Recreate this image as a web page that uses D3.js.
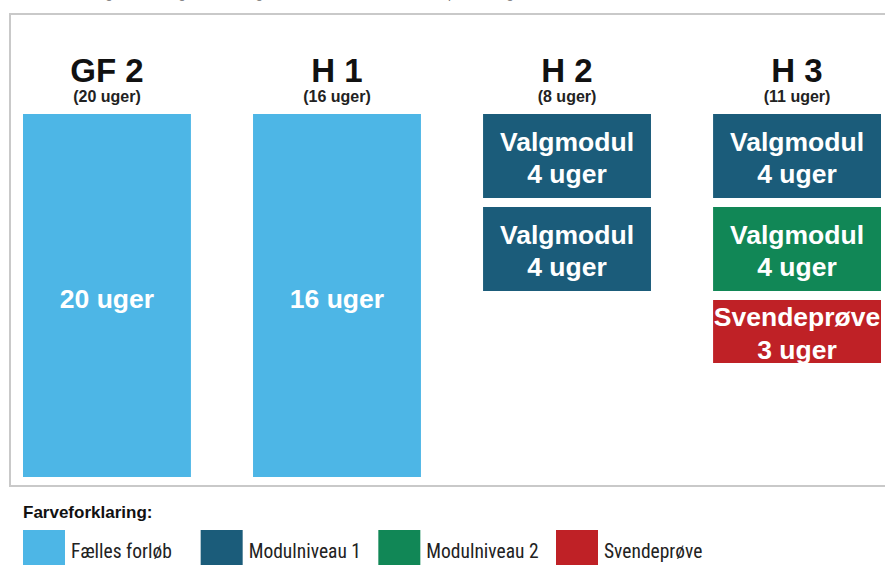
<!DOCTYPE html>
<html>
<head>
<meta charset="utf-8">
<script src="https://cdn.jsdelivr.net/npm/d3@7"></script>
<style>
  body { margin: 0; background: #fff; }
  svg { display: block; font-family: "Liberation Sans", Arial, sans-serif; }
</style>
</head>
<body>
<div id="chart"></div>
<script>
// periods (columns)
const periods = ["GF 2", "H 1", "H 2", "H 3"];
const periodWeeks = [20, 16, 8, 11];

// blocks inside each period
const blockPeriod = ["GF 2", "H 1", "H 2", "H 2", "H 3", "H 3", "H 3"];
const blockLabel = ["", "", "Valgmodul", "Valgmodul", "Valgmodul", "Valgmodul", "Svendeprøve"];
const blockWeeks = [20, 16, 4, 4, 4, 4, 3];
const blockType = ["Fælles forløb", "Fælles forløb", "Modulniveau 1", "Modulniveau 1",
                   "Modulniveau 1", "Modulniveau 2", "Svendeprøve"];

const legendKeys = ["Fælles forløb", "Modulniveau 1", "Modulniveau 2", "Svendeprøve"];
const legendColors = ["#4db6e6", "#1b5c7a", "#118756", "#bf2126"];

const width = 885, height = 565;
const svg = d3.select("#chart").append("svg")
    .attr("width", width)
    .attr("height", height);

const color = d3.scaleOrdinal().domain(legendKeys).range(legendColors);
const narrow = "'Liberation Sans Narrow', 'Roboto Condensed', 'Liberation Sans', sans-serif";

// cut-off caption line above the frame
svg.append("text")
    .attr("x", 18).attr("y", -2)
    .attr("font-size", 13).attr("fill", "#777")
    .text("Uddannelsen og forløbet af grundforløb og hovedforløb, der består af flere perioder og moduler");

// frame
svg.append("rect")
    .attr("x", 10).attr("y", 14)
    .attr("width", 890).attr("height", 472)
    .attr("fill", "#fff")
    .attr("stroke", "#c9c9c9")
    .attr("stroke-width", 2);

const x = d3.scaleBand()
    .domain(periods)
    .range([23, 881])
    .paddingInner(0.27)
    .paddingOuter(0);

const plotTop = 114, plotBottom = 477, gap = 9;
// module blocks: weeks -> pixel height
const h = d3.scaleLinear().domain([0, 4]).range([0, 84]);

// compute stacked positions per period
const blocks = blockPeriod.map((p, i) => ({
  period: p, label: blockLabel[i], weeks: blockWeeks[i], type: blockType[i]
}));
const offsets = {};
blocks.forEach(b => {
  const y0 = offsets[b.period] ?? plotTop;
  const full = b.type === "Fælles forløb";
  b.y = y0;
  b.h = full ? plotBottom - plotTop : h(b.weeks);
  offsets[b.period] = y0 + b.h + gap;
});

// period headers
const head = svg.append("g").selectAll("g")
    .data(periods)
    .join("g")
    .attr("transform", d => `translate(${x(d) + x.bandwidth() / 2},0)`);
head.append("text")
    .attr("y", 82)
    .attr("text-anchor", "middle")
    .attr("font-size", 33)
    .attr("font-weight", "bold")
    .attr("fill", "#111")
    .text(d => d);
head.append("text")
    .attr("y", 102)
    .attr("text-anchor", "middle")
    .attr("font-size", 16)
    .attr("font-weight", "bold")
    .attr("fill", "#222")
    .text((d, i) => `(${periodWeeks[i]} uger)`);

// blocks
const fs = 26.5;
const bg = svg.append("g").selectAll("g")
    .data(blocks)
    .join("g")
    .attr("transform", d => `translate(${x(d.period)},${d.y})`);
bg.append("rect")
    .attr("width", x.bandwidth())
    .attr("height", d => d.h)
    .attr("fill", d => color(d.type));
bg.each(function(d) {
  const g = d3.select(this);
  const cx = x.bandwidth() / 2;
  if (d.label) {
    const mid = d.h / 2;
    g.append("text")
        .attr("x", cx).attr("y", mid - 15)
        .attr("dy", "0.36em")
        .attr("text-anchor", "middle")
        .attr("font-size", fs).attr("font-weight", "bold").attr("fill", "#fff")
        .text(d.label);
    g.append("text")
        .attr("x", cx).attr("y", mid + 17.5)
        .attr("dy", "0.36em")
        .attr("text-anchor", "middle")
        .attr("font-size", fs).attr("font-weight", "bold").attr("fill", "#fff")
        .text(`${d.weeks} uger`);
  } else {
    g.append("text")
        .attr("x", cx).attr("y", 298 - d.y)
        .attr("dy", "0.36em")
        .attr("text-anchor", "middle")
        .attr("font-size", fs).attr("font-weight", "bold").attr("fill", "#fff")
        .text(`${d.weeks} uger`);
  }
});

// legend
svg.append("text")
    .attr("x", 23).attr("y", 518)
    .attr("font-size", 17).attr("font-weight", "bold")
    .attr("fill", "#111")
    .text("Farveforklaring:");

const lx = d3.scalePoint().domain(legendKeys).range([23, 556]);
const lg = svg.append("g").selectAll("g")
    .data(legendKeys)
    .join("g")
    .attr("transform", d => `translate(${lx(d)},530)`);
lg.append("rect")
    .attr("width", 42).attr("height", 40)
    .attr("fill", d => color(d));
lg.append("text")
    .attr("x", 48).attr("y", 21)
    .attr("dy", "0.35em")
    .attr("font-family", narrow)
    .attr("font-size", 19.5)
    .attr("fill", "#222")
    .text(d => d);
</script>
</body>
</html>
